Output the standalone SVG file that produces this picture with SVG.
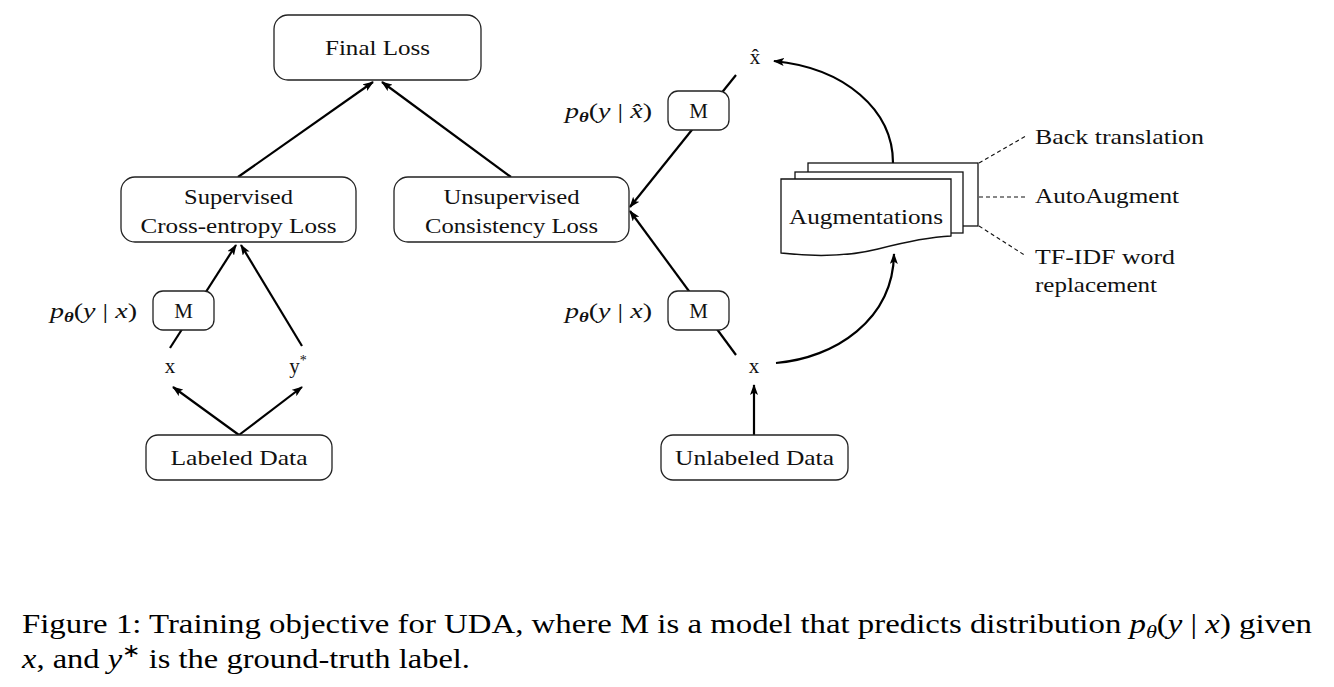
<svg xmlns="http://www.w3.org/2000/svg" width="1334" height="687" viewBox="0 0 1334 687">
<style>
.box{fill:#fff;stroke:#222;stroke-width:1.3}
.doc{fill:#fff;stroke:#111;stroke-width:1.3}
.lbl{font-family:"Liberation Serif","Tinos","Times New Roman",Times,"Noto Serif",serif;font-size:21px;fill:#111}
.mid{text-anchor:middle}
.math{font-family:"Liberation Serif","Tinos","Times New Roman",Times,"DejaVu Serif",serif;font-size:21px;fill:#111}
.it{font-style:italic}
.edge{fill:none;stroke:#000;stroke-width:2.2}
.dash{fill:none;stroke:#111;stroke-width:1.1;stroke-dasharray:4 3}
.cap{font-family:"Liberation Serif","Tinos","Times New Roman",Times,serif;font-size:28px;fill:#000}
</style>
<defs>
<marker id="arr" viewBox="0 0 11 8" refX="10" refY="4" markerWidth="11" markerHeight="8" markerUnits="userSpaceOnUse" orient="auto">
<path d="M0,0 L11,4 L0,8 L2.5,4 Z" fill="#000"/>
</marker>
</defs>
<rect width="1334" height="687" fill="#fff"/>

<g id="connectors">
<line class="edge" x1="238" y1="177" x2="373" y2="82" marker-end="url(#arr)"/>
<line class="edge" x1="511" y1="177" x2="382" y2="82" marker-end="url(#arr)"/>
<line class="edge" x1="170" y1="348" x2="236" y2="245" marker-end="url(#arr)"/>
<line class="edge" x1="302" y1="346" x2="241" y2="245" marker-end="url(#arr)"/>
<line class="edge" x1="239" y1="435" x2="173" y2="387" marker-end="url(#arr)"/>
<line class="edge" x1="239" y1="435" x2="302" y2="387" marker-end="url(#arr)"/>
<line class="edge" x1="754" y1="435" x2="754" y2="385" marker-end="url(#arr)"/>
<line class="edge" x1="736" y1="355" x2="630" y2="211" marker-end="url(#arr)"/>
<line class="edge" x1="736" y1="75" x2="630" y2="207" marker-end="url(#arr)"/>
<path class="edge" d="M893,163 C893,110 845,68 774,61" marker-end="url(#arr)"/>
<path class="edge" d="M776,363 C835,358 893,320 894,254" marker-end="url(#arr)"/>
<line class="dash" x1="979" y1="163" x2="1026" y2="136"/>
<line class="dash" x1="979" y1="197" x2="1026" y2="197"/>
<line class="dash" x1="979" y1="226" x2="1026" y2="256"/>
</g>

<g id="final-loss">
<rect class="box" x="274" y="15" width="207" height="65" rx="14"/>
<text class="lbl mid" x="377.5" y="55" textLength="105" lengthAdjust="spacingAndGlyphs">Final Loss</text>
</g>

<g id="supervised-loss">
<rect class="box" x="121" y="177" width="235" height="65" rx="14"/>
<text class="lbl mid" x="238.5" y="204" textLength="109" lengthAdjust="spacingAndGlyphs">Supervised</text>
<text class="lbl mid" x="238.5" y="233" textLength="196" lengthAdjust="spacingAndGlyphs">Cross-entropy Loss</text>
</g>

<g id="unsupervised-loss">
<rect class="box" x="394" y="177" width="235" height="65" rx="14"/>
<text class="lbl mid" x="511.5" y="204" textLength="136" lengthAdjust="spacingAndGlyphs">Unsupervised</text>
<text class="lbl mid" x="511.5" y="233" textLength="173" lengthAdjust="spacingAndGlyphs">Consistency Loss</text>
</g>

<g id="model-left">
<rect class="box" x="153" y="291" width="61" height="39" rx="10"/>
<text class="lbl mid" x="183.5" y="318">M</text>
<text class="math" x="50" y="318" textLength="87" lengthAdjust="spacingAndGlyphs"><tspan class="it">p</tspan><tspan class="it" font-weight="bold" font-size="14" dy="4">θ</tspan><tspan dy="-4">(</tspan><tspan class="it">y</tspan><tspan> | </tspan><tspan class="it">x</tspan><tspan>)</tspan></text>
</g>

<g id="x-labeled">
<text class="lbl mid" x="170" y="373">x</text>
</g>

<g id="y-star">
<text class="lbl mid" x="298" y="373">y<tspan font-size="14" dy="-8">*</tspan></text>
</g>

<g id="labeled-data">
<rect class="box" x="146" y="435" width="186" height="45" rx="12"/>
<text class="lbl mid" x="239" y="465" textLength="137" lengthAdjust="spacingAndGlyphs">Labeled Data</text>
</g>

<g id="model-right-bottom">
<rect class="box" x="668" y="291" width="61" height="39" rx="10"/>
<text class="lbl mid" x="698.5" y="318">M</text>
<text class="math" x="565" y="318" textLength="87" lengthAdjust="spacingAndGlyphs"><tspan class="it">p</tspan><tspan class="it" font-weight="bold" font-size="14" dy="4">θ</tspan><tspan dy="-4">(</tspan><tspan class="it">y</tspan><tspan> | </tspan><tspan class="it">x</tspan><tspan>)</tspan></text>
</g>

<g id="model-right-top">
<rect class="box" x="668" y="91" width="61" height="39" rx="10"/>
<text class="lbl mid" x="698.5" y="118">M</text>
<text class="math" x="565" y="118" textLength="87" lengthAdjust="spacingAndGlyphs"><tspan class="it">p</tspan><tspan class="it" font-weight="bold" font-size="14" dy="4">θ</tspan><tspan dy="-4">(</tspan><tspan class="it">y</tspan><tspan> | </tspan><tspan class="it">x̂</tspan><tspan>)</tspan></text>
</g>

<g id="x-hat">
<text class="lbl mid" x="755" y="64">x̂</text>
</g>

<g id="x-unlabeled">
<text class="lbl mid" x="754" y="373">x</text>
</g>

<g id="unlabeled-data">
<rect class="box" x="661" y="435" width="187" height="45" rx="12"/>
<text class="lbl mid" x="754.5" y="465" textLength="159" lengthAdjust="spacingAndGlyphs">Unlabeled Data</text>
</g>

<g id="augmentations">
<rect class="doc" x="808" y="163" width="170" height="63"/>
<rect class="doc" x="795" y="172" width="168" height="61"/>
<path class="doc" d="M781,179 H951 V236 C928,237 905,242 878,249 C850,256 815,257 781,253 Z"/>
<text class="lbl mid" x="866" y="224" textLength="154" lengthAdjust="spacingAndGlyphs">Augmentations</text>
</g>

<g id="aug-labels">
<text class="lbl" x="1035" y="144" textLength="169" lengthAdjust="spacingAndGlyphs">Back translation</text>
<text class="lbl" x="1035" y="203" textLength="144" lengthAdjust="spacingAndGlyphs">AutoAugment</text>
<text class="lbl" x="1035" y="264" textLength="140" lengthAdjust="spacingAndGlyphs">TF-IDF word</text>
<text class="lbl" x="1035" y="292" textLength="122" lengthAdjust="spacingAndGlyphs">replacement</text>
</g>

<g id="caption">
<text class="cap" x="22" y="633" textLength="1290" lengthAdjust="spacingAndGlyphs">Figure 1: Training objective for UDA, where M is a model that predicts distribution <tspan class="it">p</tspan><tspan class="it" font-size="19" dy="5">θ</tspan><tspan dy="-5">(</tspan><tspan class="it">y</tspan> | <tspan class="it">x</tspan>) given</text>
<text class="cap" x="22" y="668" textLength="448" lengthAdjust="spacingAndGlyphs"><tspan class="it">x</tspan>, and <tspan class="it">y</tspan><tspan font-size="19" dy="-11">∗</tspan><tspan dy="11"> is the ground-truth label.</tspan></text>
</g>
</svg>
